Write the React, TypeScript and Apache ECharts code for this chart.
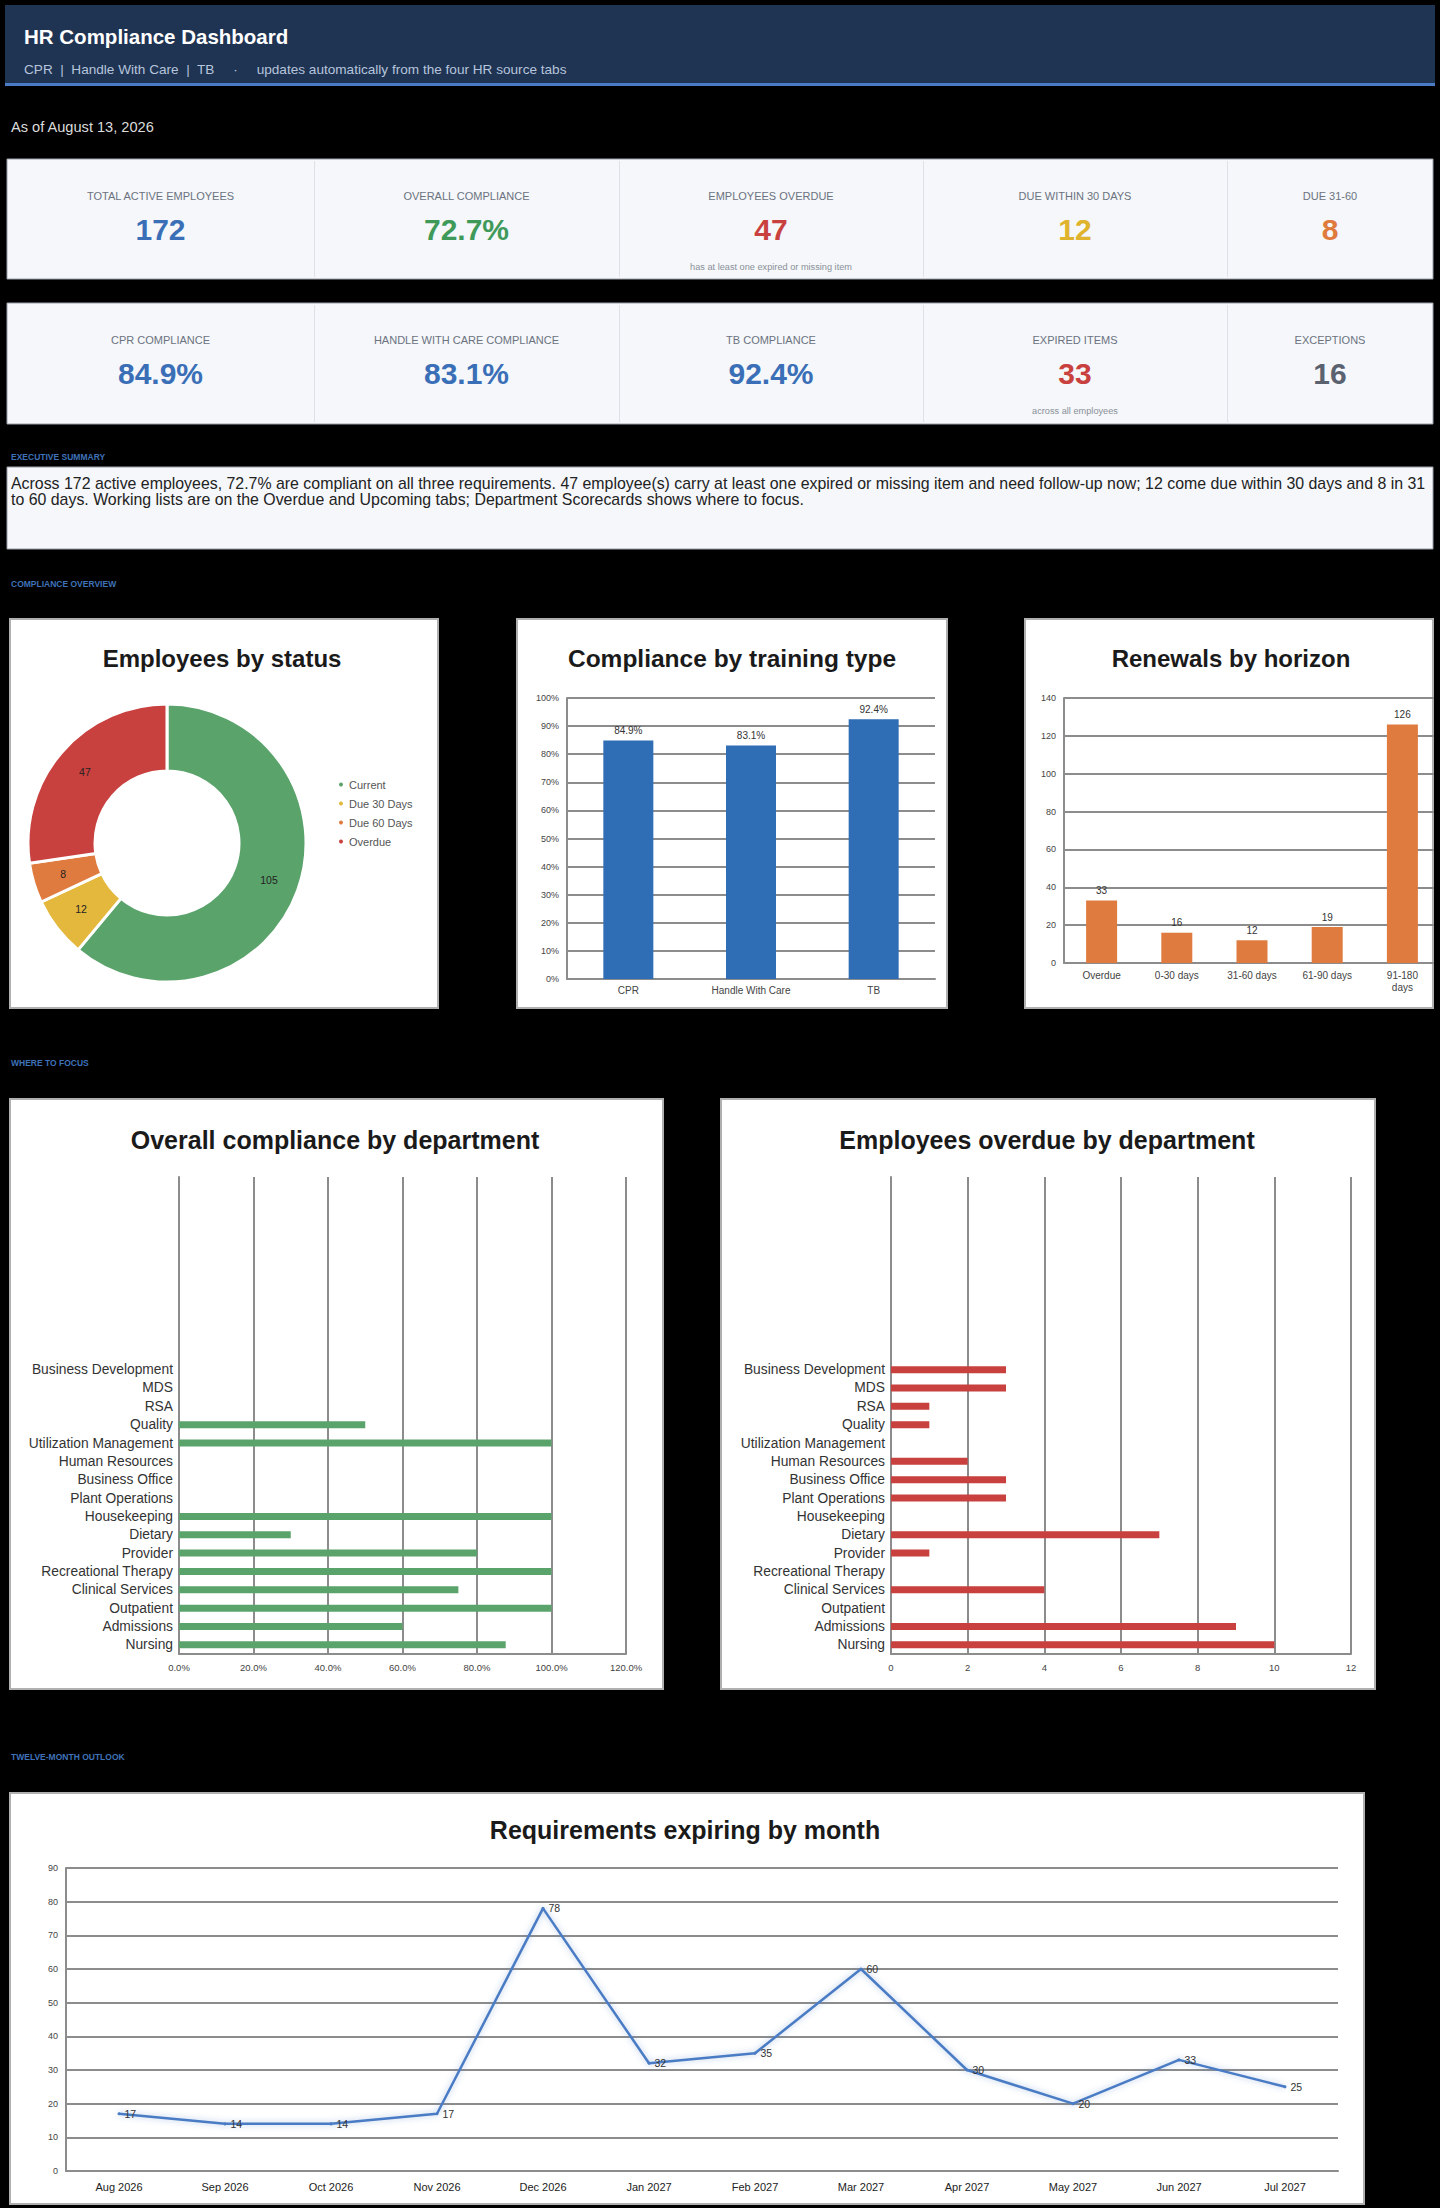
import React, { useEffect, useRef } from 'react';
import * as echarts from 'echarts';

// ---------- DATA ----------
const headerTitle = 'HR Compliance Dashboard';
const headerSubtitle = 'CPR  |  Handle With Care  |  TB     ·     updates automatically from the four HR source tabs';
const asOfText = 'As of August 13, 2026';

const kpiRow1Labels = ['TOTAL ACTIVE EMPLOYEES', 'OVERALL COMPLIANCE', 'EMPLOYEES OVERDUE', 'DUE WITHIN 30 DAYS', 'DUE 31-60'];
const kpiRow1Values = ['172', '72.7%', '47', '12', '8'];
const kpiRow1Notes = ['', '', 'has at least one expired or missing item', '', ''];
const kpiRow1Colors = ['#3a6fb7', '#3f9a5a', '#c9413f', '#e0b32c', '#e07b3e'];

const kpiRow2Labels = ['CPR COMPLIANCE', 'HANDLE WITH CARE COMPLIANCE', 'TB COMPLIANCE', 'EXPIRED ITEMS', 'EXCEPTIONS'];
const kpiRow2Values = ['84.9%', '83.1%', '92.4%', '33', '16'];
const kpiRow2Notes = ['', '', '', 'across all employees', ''];
const kpiRow2Colors = ['#3a6fb7', '#3a6fb7', '#3a6fb7', '#c9413f', '#5a6270'];

const summaryLines = [
  'Across 172 active employees, 72.7% are compliant on all three requirements. 47 employee(s) carry at least one expired or missing item and need follow-up now; 12 come due within 30 days and 8 in 31',
  'to 60 days. Working lists are on the Overdue and Upcoming tabs; Department Scorecards shows where to focus.',
];

const sectionLabels = ['EXECUTIVE SUMMARY', 'COMPLIANCE OVERVIEW', 'WHERE TO FOCUS', 'TWELVE-MONTH OUTLOOK'];

const statusNames = ['Current', 'Due 30 Days', 'Due 60 Days', 'Overdue'];
const statusValues = [105, 12, 8, 47];
const statusColors = ['#5aa36b', '#e3b83d', '#e07b3f', '#c8413f'];

const trainingTypes = ['CPR', 'Handle With Care', 'TB'];
const trainingCompliance = [84.9, 83.1, 92.4];

const horizons = ['Overdue', '0-30 days', '31-60 days', '61-90 days', '91-180\ndays'];
const horizonCounts = [33, 16, 12, 19, 126];

// listed bottom to top
const departments = [
  'Nursing', 'Admissions', 'Outpatient', 'Clinical Services', 'Recreational Therapy', 'Provider',
  'Dietary', 'Housekeeping', 'Plant Operations', 'Business Office', 'Human Resources',
  'Utilization Management', 'Quality', 'RSA', 'MDS', 'Business Development',
];
const deptCompliance = [87.7, 60, 100, 75, 100, 80, 30, 100, 0, 0, 0, 100, 50, 0, 0, 0];
const deptOverdue = [10, 9, 0, 4, 0, 1, 7, 0, 3, 3, 2, 0, 1, 1, 3, 3];
const deptAxisSlots = 26; // chart range includes empty rows above the departments

const months = ['Aug 2026', 'Sep 2026', 'Oct 2026', 'Nov 2026', 'Dec 2026', 'Jan 2027', 'Feb 2027', 'Mar 2027', 'Apr 2027', 'May 2027', 'Jun 2027', 'Jul 2027'];
const expiringCounts = [17, 14, 14, 17, 78, 32, 35, 60, 30, 20, 33, 25];

// ---------- STYLE ----------
const FONT = '"Liberation Sans", Arial, sans-serif';
const GRID_LINE = { color: '#8c8c8c', width: 2 };
const AXIS_LINE = { show: true, lineStyle: { color: '#8c8c8c', width: 2 } };
const AXIS_LABEL = { color: '#444', fontSize: 10, fontFamily: FONT };

function txt(x: number, y: number, text: string, o: any = {}) {
  return {
    type: 'text',
    x,
    y,
    z: o.z ?? 10,
    style: {
      text,
      fill: o.fill ?? '#222',
      fontSize: o.fontSize ?? 12,
      fontWeight: o.fontWeight ?? 'normal',
      fontFamily: o.fontFamily ?? FONT,
      align: o.align ?? 'left',
      verticalAlign: 'middle',
    },
  };
}

function rect(x: number, y: number, w: number, h: number, fill: string, o: any = {}) {
  return {
    type: 'rect',
    z: o.z ?? 0,
    shape: { x, y, width: w, height: h },
    style: { fill, stroke: o.stroke ?? null, lineWidth: o.lineWidth ?? 0 },
  };
}

function buildGraphics() {
  const g: any[] = [];
  // header
  g.push(rect(5, 5, 1430, 81, '#1f3353'));
  g.push(rect(5, 83, 1430, 3, '#4a7bc4'));
  g.push(txt(24, 36, headerTitle, { fill: '#ffffff', fontSize: 20.5, fontWeight: 'bold' }));
  g.push(txt(24, 69, headerSubtitle, { fill: '#b6c5db', fontSize: 13.6 }));
  g.push(txt(11, 127, asOfText, { fill: '#dcdcdc', fontSize: 14.6 }));

  // KPI rows
  const edges = [7, 314, 619, 923, 1227, 1433];
  const rows = [
    { y: 159, h: 120, labels: kpiRow1Labels, values: kpiRow1Values, notes: kpiRow1Notes, colors: kpiRow1Colors },
    { y: 303, h: 121, labels: kpiRow2Labels, values: kpiRow2Values, notes: kpiRow2Notes, colors: kpiRow2Colors },
  ];
  rows.forEach((r) => {
    g.push(rect(edges[0], r.y, edges[5] - edges[0], r.h, '#f5f7fa', { stroke: '#9aa0a8', lineWidth: 1 }));
    for (let i = 1; i < 5; i++) g.push(rect(edges[i], r.y + 2, 1, r.h - 4, '#dde2e8', { z: 1 }));
    for (let i = 0; i < 5; i++) {
      const cx = (edges[i] + edges[i + 1]) / 2;
      g.push(txt(cx, r.y + 37, r.labels[i], { fill: '#6b7280', fontSize: 11, align: 'center' }));
      g.push(txt(cx, r.y + 70, r.values[i], { fill: r.colors[i], fontSize: 30, fontWeight: 'bold', align: 'center' }));
      if (r.notes[i]) g.push(txt(cx, r.y + 108, r.notes[i], { fill: '#8a9099', fontSize: 9.2, align: 'center' }));
    }
  });

  // section labels
  const secY = [457, 584, 1063, 1757];
  sectionLabels.forEach((s, i) => g.push(txt(11, secY[i], s, { fill: '#3f72b8', fontSize: 8.5, fontWeight: 'bold' })));

  // summary
  g.push(rect(7, 467, 1426, 82, '#f5f7fa', { stroke: '#9aa0a8', lineWidth: 1 }));
  summaryLines.forEach((l, i) => g.push(txt(11, 483 + i * 16, l, { fill: '#222', fontSize: 15.9 })));

  // chart boxes
  const boxStyle = { stroke: '#b0b0b0', lineWidth: 2 };
  g.push(rect(10, 619, 428, 389, '#ffffff', boxStyle));
  g.push(rect(517, 619, 430, 389, '#ffffff', boxStyle));
  g.push(rect(1025, 619, 408, 389, '#ffffff', boxStyle));
  g.push(rect(10, 1099, 653, 590, '#ffffff', boxStyle));
  g.push(rect(721, 1099, 654, 590, '#ffffff', boxStyle));
  g.push(rect(10, 1793, 1354, 411, '#ffffff', boxStyle));
  // clip of the renewals chart at its box edge
  g.push(rect(1434, 610, 6, 410, '#000000', { z: 60 }));

  // chart titles
  const T = { fill: '#1a1a1a', fontSize: 24, fontWeight: 'bold', align: 'center' };
  g.push(txt(222, 658, 'Employees by status', T));
  g.push(txt(732, 658, 'Compliance by training type', { ...T, fontSize: 24.5 }));
  g.push(txt(1231, 658, 'Renewals by horizon', T));
  g.push(txt(335, 1140, 'Overall compliance by department', { ...T, fontSize: 25 }));
  g.push(txt(1047, 1140, 'Employees overdue by department', { ...T, fontSize: 25 }));
  g.push(txt(685, 1830, 'Requirements expiring by month', { ...T, fontSize: 25 }));
  return g;
}

function buildOption() {
  const pctFmt = (v: number) => `${v}%`;
  const deptLabel = { ...AXIS_LABEL, color: '#333', fontSize: 13.8, margin: 6, interval: 0 };
  return {
    animation: false,
    backgroundColor: '#000000',
    textStyle: { fontFamily: FONT },
    graphic: { elements: buildGraphics() },
    legend: {
      data: statusNames,
      orient: 'vertical',
      left: 332,
      top: 774,
      itemGap: 8,
      icon: 'circle',
      itemWidth: 6,
      itemHeight: 6,
      textStyle: { color: '#555', fontSize: 11, fontFamily: FONT },
    },
    grid: [
      { left: 567, top: 698, width: 368, height: 281 },
      { left: 1064, top: 698, width: 383, height: 265 },
      { left: 179, top: 1177, width: 447, height: 477 },
      { left: 891, top: 1177, width: 460, height: 477 },
      { left: 66, top: 1868, width: 1272, height: 303 },
    ],
    xAxis: [
      { gridIndex: 0, type: 'category', data: trainingTypes, axisLine: AXIS_LINE, axisTick: { show: false }, axisLabel: { ...AXIS_LABEL, margin: 6 } },
      { gridIndex: 1, type: 'category', data: horizons, axisLine: AXIS_LINE, axisTick: { show: false }, axisLabel: { ...AXIS_LABEL, margin: 6, interval: 0, lineHeight: 12 } },
      { gridIndex: 2, type: 'value', min: 0, max: 120, interval: 20, axisLine: AXIS_LINE, axisTick: { show: false }, splitLine: { show: true, lineStyle: GRID_LINE }, axisLabel: { ...AXIS_LABEL, fontSize: 9.5, formatter: (v: number) => `${v.toFixed(1)}%` } },
      { gridIndex: 3, type: 'value', min: 0, max: 12, interval: 2, axisLine: AXIS_LINE, axisTick: { show: false }, splitLine: { show: true, lineStyle: GRID_LINE }, axisLabel: { ...AXIS_LABEL, fontSize: 9.5 } },
      { gridIndex: 4, type: 'category', data: months, axisLine: AXIS_LINE, axisTick: { show: false }, axisLabel: { ...AXIS_LABEL, color: '#222', fontSize: 11, margin: 10, interval: 0 } },
    ],
    yAxis: [
      { gridIndex: 0, type: 'value', min: 0, max: 100, interval: 10, axisLine: AXIS_LINE, splitLine: { lineStyle: GRID_LINE }, axisLabel: { ...AXIS_LABEL, fontSize: 9, formatter: pctFmt } },
      { gridIndex: 1, type: 'value', min: 0, max: 140, interval: 20, axisLine: AXIS_LINE, splitLine: { lineStyle: GRID_LINE }, axisLabel: { ...AXIS_LABEL, fontSize: 9 } },
      { gridIndex: 2, type: 'category', data: departments, max: deptAxisSlots - 1, axisLine: AXIS_LINE, axisTick: { show: false }, splitLine: { show: false }, axisLabel: deptLabel },
      { gridIndex: 3, type: 'category', data: departments, max: deptAxisSlots - 1, axisLine: AXIS_LINE, axisTick: { show: false }, splitLine: { show: false }, axisLabel: deptLabel },
      { gridIndex: 4, type: 'value', min: 0, max: 90, interval: 10, axisLine: AXIS_LINE, splitLine: { lineStyle: GRID_LINE }, axisLabel: { ...AXIS_LABEL, fontSize: 9 } },
    ],
    series: [
      {
        type: 'pie',
        name: 'Employees by status',
        center: [167, 843],
        radius: [72, 139],
        startAngle: 90,
        clockwise: true,
        data: statusNames.map((n, i) => ({ name: n, value: statusValues[i], itemStyle: { color: statusColors[i] } })),
        itemStyle: { borderColor: '#ffffff', borderWidth: 3 },
        label: { show: true, position: 'inside', formatter: '{c}', color: '#222', fontSize: 10.5, fontFamily: FONT },
        labelLine: { show: false },
      },
      {
        type: 'bar',
        name: 'Compliance',
        xAxisIndex: 0,
        yAxisIndex: 0,
        data: trainingCompliance,
        barWidth: 50,
        itemStyle: { color: '#2f6db5' },
        label: { show: true, position: 'top', color: '#333', fontSize: 10, formatter: (p: any) => `${p.value.toFixed(1)}%` },
      },
      {
        type: 'bar',
        name: 'Renewals',
        xAxisIndex: 1,
        yAxisIndex: 1,
        data: horizonCounts,
        barWidth: 31,
        itemStyle: { color: '#e07b3f' },
        label: { show: true, position: 'top', color: '#333', fontSize: 10 },
      },
      {
        type: 'bar',
        name: 'Overall compliance',
        xAxisIndex: 2,
        yAxisIndex: 2,
        data: deptCompliance,
        barWidth: 7,
        itemStyle: { color: '#5aa36b' },
      },
      {
        type: 'bar',
        name: 'Employees overdue',
        xAxisIndex: 3,
        yAxisIndex: 3,
        data: deptOverdue,
        barWidth: 7,
        itemStyle: { color: '#c8413f' },
      },
      {
        type: 'line',
        name: 'Requirements expiring',
        xAxisIndex: 4,
        yAxisIndex: 4,
        data: expiringCounts,
        symbol: 'circle',
        symbolSize: 3,
        showSymbol: true,
        itemStyle: { color: '#4a7cc4' },
        lineStyle: { color: '#4a7cc4', width: 2.5, shadowColor: 'rgba(74,124,196,0.45)', shadowBlur: 6 },
        label: { show: true, position: 'right', color: '#333', fontSize: 10.5, distance: 4 },
      },
    ],
  };
}

export default function App() {
  const ref = useRef<HTMLDivElement>(null);
  useEffect(() => {
    document.body.style.margin = '0';
    document.body.style.background = '#000';
    const chart = echarts.init(ref.current as HTMLDivElement, null, { renderer: 'svg' });
    chart.setOption(buildOption() as any);
    return () => chart.dispose();
  }, []);
  return <div ref={ref} style={{ width: 1440, height: 2208, background: '#000' }} />;
}
